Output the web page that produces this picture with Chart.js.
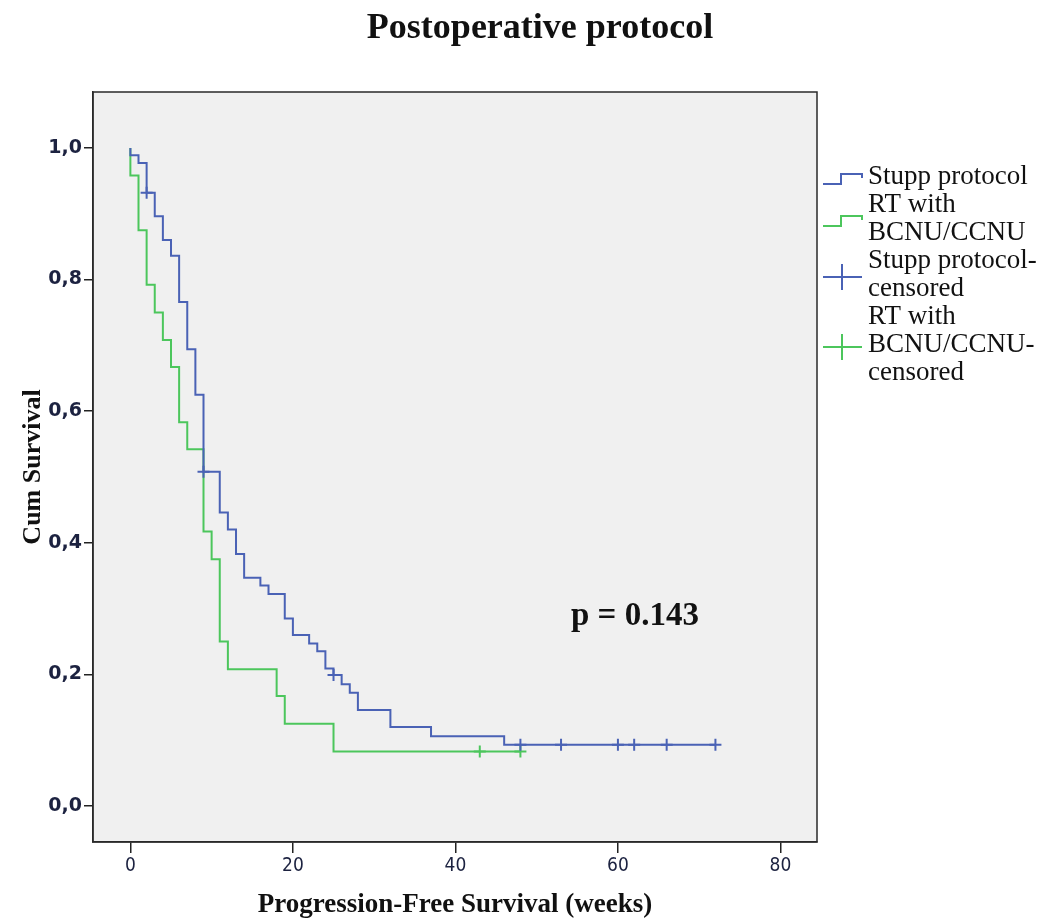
<!DOCTYPE html>
<html>
<head>
<meta charset="utf-8">
<title>Postoperative protocol</title>
<script src="https://cdn.jsdelivr.net/npm/chart.js@4.4.1/dist/chart.umd.min.js"></script>
<style>
    html, body { margin: 0; padding: 0; background: #ffffff; }
    #wrap { width: 1047px; height: 923px; }
</style>
</head>
<body>
<div id="wrap"><canvas id="km-chart" width="1047" height="923"></canvas></div>
<script>
// Kaplan-Meier data (weeks, cumulative survival)
const stuppTimes = [0, 0, 1, 2, 3, 4, 5, 6, 7, 8, 9, 11, 12, 13, 14, 16, 17, 19, 20, 22, 23, 24, 25, 26, 27, 28, 32, 37, 46, 72];
const stuppSurv = [1.0, 0.989, 0.977, 0.932, 0.896, 0.860, 0.836, 0.766, 0.694, 0.625, 0.508, 0.446, 0.420, 0.383, 0.347, 0.335, 0.322, 0.285, 0.260, 0.247, 0.235, 0.209, 0.199, 0.185, 0.172, 0.146, 0.120, 0.106, 0.093, 0.093];
const stuppCensTimes = [2, 9, 25, 48, 53, 60, 62, 66, 72];
const stuppCensSurv = [0.932, 0.508, 0.199, 0.093, 0.093, 0.093, 0.093, 0.093, 0.093];

const rtTimes = [0, 0, 1, 2, 3, 4, 5, 6, 7, 9, 10, 11, 12, 18, 19, 25, 48];
const rtSurv = [1.0, 0.958, 0.875, 0.792, 0.750, 0.708, 0.667, 0.583, 0.542, 0.417, 0.375, 0.250, 0.208, 0.167, 0.125, 0.083, 0.083];
const rtCensTimes = [43, 48];
const rtCensSurv = [0.083, 0.083];

const xTicks = [0, 20, 40, 60, 80];
const xTickLabels = ['0', '20', '40', '60', '80'];
const yTicks = [0, 0.2, 0.4, 0.6, 0.8, 1.0];
const yTickLabels = ['0,0', '0,2', '0,4', '0,6', '0,8', '1,0'];

const legendLabels = [
    ['Stupp protocol'],
    ['RT with', 'BCNU/CCNU'],
    ['Stupp protocol-', 'censored'],
    ['RT with', 'BCNU/CCNU-', 'censored']
];

const chartTitle = 'Postoperative protocol';
const pValueText = 'p = 0.143';

const BLUE = '#4a62b5';
const GREEN = '#4cc65c';

function toPoints(xs, ys) {
    return xs.map((x, i) => ({ x: x, y: ys[i] }));
}

// background, frame, title, p-value and the SPSS style legend
const kmDecor = {
    id: 'kmDecor',
    beforeDraw(chart) {
        const { ctx, chartArea: a } = chart;
        ctx.save();
        ctx.fillStyle = '#ffffff';
        ctx.fillRect(0, 0, chart.width, chart.height);
        ctx.fillStyle = '#f0f0f0';
        ctx.fillRect(a.left, a.top, a.right - a.left, a.bottom - a.top);
        ctx.restore();
    },
    afterDraw(chart) {
        const { ctx, chartArea: a } = chart;
        ctx.save();

        // frame
        ctx.strokeStyle = '#2a2a2a';
        ctx.lineWidth = 1.5;
        ctx.strokeRect(a.left, a.top, a.right - a.left, a.bottom - a.top);

        // title
        ctx.fillStyle = '#111111';
        ctx.textAlign = 'center';
        ctx.textBaseline = 'middle';
        ctx.font = 'bold 36px "Liberation Serif", "DejaVu Serif", serif';
        ctx.fillText(chartTitle, 540, 29);

        // p-value
        ctx.textAlign = 'left';
        ctx.textBaseline = 'alphabetic';
        ctx.font = 'bold 33px "Liberation Serif", "DejaVu Serif", serif';
        ctx.fillText(pValueText, 571, 625);

        // legend
        const colors = [BLUE, GREEN, BLUE, GREEN];
        const glyphs = ['step', 'step', 'cross', 'cross'];
        const gx0 = a.right + 6;
        const gx1 = gx0 + 39;
        const tx = gx1 + 6;
        let baseline = 184;
        ctx.font = '27px "Liberation Serif", "DejaVu Serif", serif';
        legendLabels.forEach((lines, i) => {
            const first = baseline;
            lines.forEach(line => {
                ctx.fillStyle = '#111111';
                ctx.fillText(line, tx, baseline);
                baseline += 28;
            });
            const last = baseline - 28;
            const yc = (first + last) / 2 - 5;
            ctx.strokeStyle = colors[i];
            ctx.lineWidth = 2;
            ctx.beginPath();
            if (glyphs[i] === 'step') {
                const mid = gx0 + 18;
                ctx.moveTo(gx0, yc + 5);
                ctx.lineTo(mid, yc + 5);
                ctx.lineTo(mid, yc - 5);
                ctx.lineTo(gx1, yc - 5);
                ctx.lineTo(gx1, yc - 1);
            } else {
                const cx = gx0 + 19;
                ctx.moveTo(gx0, yc);
                ctx.lineTo(gx1, yc);
                ctx.moveTo(cx, yc - 13);
                ctx.lineTo(cx, yc + 13);
            }
            ctx.stroke();
        });

        ctx.restore();
    }
};

document.addEventListener('DOMContentLoaded', function() {
    initChart();
});

function initChart() {
    const ctx = document.getElementById('km-chart').getContext('2d');
    const tickColor = '#1c2240';

    new Chart(ctx, {
        type: 'scatter',
        data: {
            datasets: [{
                label: 'Stupp protocol-censored',
                data: toPoints(stuppCensTimes, stuppCensSurv),
                showLine: false,
                pointStyle: 'cross',
                pointRadius: 6,
                borderColor: BLUE,
                borderWidth: 2
            }, {
                label: 'Stupp protocol',
                data: toPoints(stuppTimes, stuppSurv),
                showLine: true,
                stepped: 'before',
                pointRadius: 0,
                borderColor: BLUE,
                borderWidth: 2
            }, {
                label: 'RT with BCNU/CCNU-censored',
                data: toPoints(rtCensTimes, rtCensSurv),
                showLine: false,
                pointStyle: 'cross',
                pointRadius: 6,
                borderColor: GREEN,
                borderWidth: 2
            }, {
                label: 'RT with BCNU/CCNU',
                data: toPoints(rtTimes, rtSurv),
                showLine: true,
                stepped: 'before',
                pointRadius: 0,
                borderColor: GREEN,
                borderWidth: 2
            }]
        },
        options: {
            responsive: false,
            animation: false,
            layout: {
                padding: { top: 92, right: 230, bottom: 0, left: 0 }
            },
            plugins: {
                legend: { display: false },
                title: { display: false },
                tooltip: { enabled: false }
            },
            scales: {
                x: {
                    type: 'linear',
                    min: -4.6,
                    max: 84.5,
                    afterFit: s => { s.height = 81; },
                    afterBuildTicks: s => { s.ticks = xTicks.map(v => ({ value: v })); },
                    grid: { drawOnChartArea: false, drawTicks: true, tickLength: 11, color: '#222', lineWidth: 1.5 },
                    border: { display: true, color: '#2a2a2a', width: 1.5 },
                    ticks: {
                        padding: 2,
                        color: tickColor,
                        maxRotation: 0,
                        font: { family: '"DejaVu Sans Condensed", "DejaVu Sans", sans-serif', size: 19 },
                        callback: (v, i) => xTickLabels[i]
                    },
                    title: {
                        display: true,
                        text: 'Progression-Free Survival (weeks)',
                        color: '#111',
                        padding: { top: 0, bottom: 2 },
                        font: { family: '"Liberation Serif", "DejaVu Serif", serif', size: 27, weight: 'bold' }
                    }
                },
                y: {
                    type: 'linear',
                    min: -0.0547,
                    max: 1.085,
                    afterFit: s => { s.width = 93; },
                    afterBuildTicks: s => { s.ticks = yTicks.map(v => ({ value: v })); },
                    grid: { drawOnChartArea: false, drawTicks: true, tickLength: 9, color: '#222', lineWidth: 1.5 },
                    border: { display: true, color: '#2a2a2a', width: 1.5 },
                    ticks: {
                        padding: 2,
                        color: tickColor,
                        font: { family: '"DejaVu Sans", sans-serif', size: 19, weight: 'bold' },
                        callback: (v, i) => yTickLabels[i]
                    },
                    title: {
                        display: true,
                        text: 'Cum Survival',
                        color: '#111',
                        padding: { top: 18, bottom: 0 },
                        font: { family: '"Liberation Serif", "DejaVu Serif", serif', size: 26, weight: 'bold' }
                    }
                }
            }
        },
        plugins: [kmDecor]
    });
}
</script>
</body>
</html>
